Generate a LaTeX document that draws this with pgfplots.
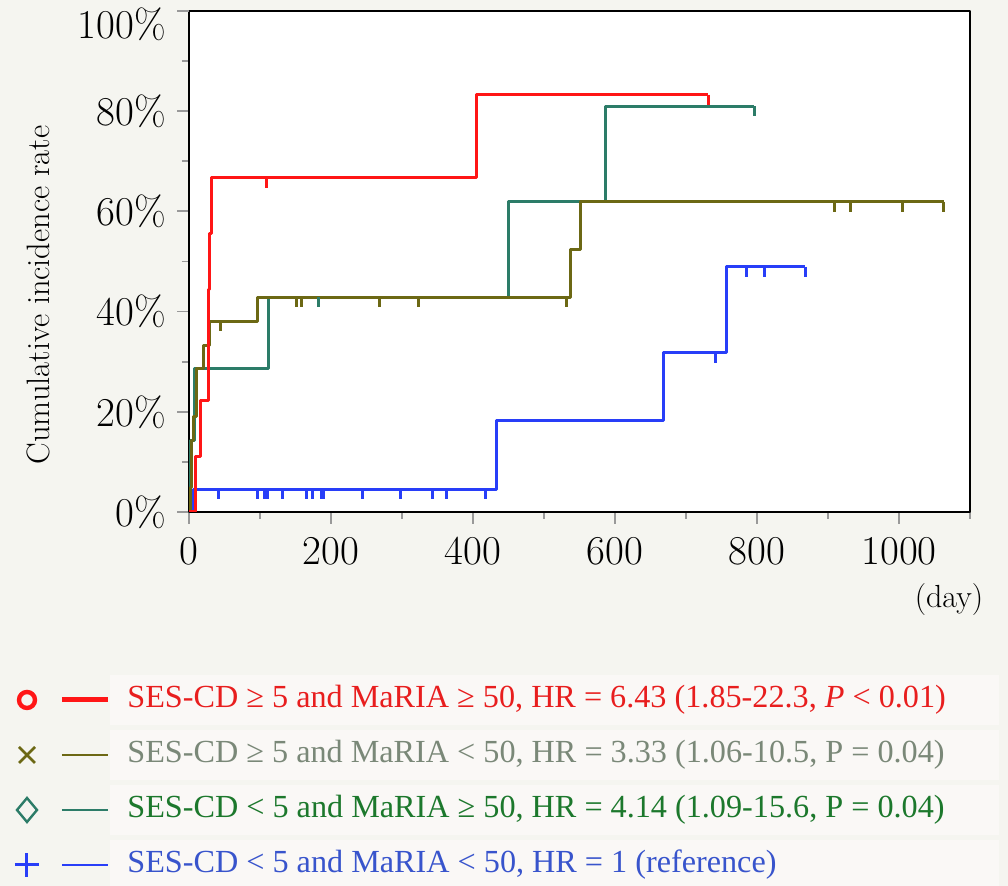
\documentclass[border=0pt]{standalone}
\usepackage{fontspec}
\usepackage{pgfplots}
\pgfplotsset{compat=1.18}
\newfontfamily\legfont{Liberation Serif}
\definecolor{kmred}{RGB}{255,22,22}
\definecolor{kmolive}{RGB}{108,104,20}
\definecolor{kmteal}{RGB}{44,124,104}
\definecolor{kmblue}{RGB}{40,62,248}
\definecolor{txtred}{RGB}{232,30,30}
\definecolor{txtolive}{RGB}{122,136,120}
\definecolor{txtgreen}{RGB}{28,120,44}
\definecolor{txtblue}{RGB}{56,84,204}
\definecolor{pagebg}{RGB}{245,245,240}
\definecolor{rowbg}{RGB}{250,248,246}
\pgfdeclareplotmark{cens}{\pgfpathmoveto{\pgfpointorigin}\pgfpathlineto{\pgfpoint{0pt}{-\pgfplotmarksize}}\pgfusepathqstroke}
\begin{document}
\begin{tikzpicture}
\fill[pagebg] (-94.5pt,-187pt) rectangle (409.5pt,256pt);
% legend row boxes
\foreach \yy in {-94,-121.5,-149,-176.5}{
  \fill[rowbg] (-39.5pt,\yy pt-12.5pt) rectangle (405pt,\yy pt+12.5pt);
}
\begin{axis}[
  scale only axis, width=390.5pt, height=250.5pt,
  at={(0,0)}, anchor=south west,
  xmin=0, xmax=1100, ymin=0, ymax=100,
  /pgf/number format/assume math mode=true,
  /pgf/number format/1000 sep={},
  xtick={0,200,...,1000}, minor xtick={100,300,...,1100},
  ytick={0,20,...,80}, minor ytick={10,30,...,90},
  extra y ticks={100},
  extra y tick style={yticklabel style={yshift=-6.5pt}},
  yticklabel={\pgfmathprintnumber{\tick}\%},
  tick align=outside, tick pos=left,
  major tick length=6pt, minor tick length=3.5pt,
  every tick/.style={gray!80, line width=0.9pt},
  axis line style={black, line width=1.3pt},
  axis background/.style={fill=white},
  tick label style={font=\fontsize{20.5}{23}\selectfont},
  xticklabel style={yshift=-3pt},
  yticklabel style={xshift=-2pt},
  line join=round,
]
\addplot[kmblue, line width=1.5pt, const plot] coordinates {(0,0) (6,4.5) (433,18.2) (669,31.8) (757,48.9) (868,48.9)};
\addplot[kmblue, line width=1.5pt, only marks, mark=cens, mark size=5pt] coordinates {
(42,4.5) (96,4.5) (106,4.5) (110,4.5) (132,4.5) (166,4.5) (174,4.5) (187,4.5) (190,4.5) (244,4.5) (298,4.5) (343,4.5) (363,4.5) (418,4.5)
(741,31.8) (785,48.9) (811,48.9) (868,48.9)};
\addplot[kmteal, line width=1.5pt, const plot] coordinates {(0,0) (2,14.3) (8,28.6) (112,42.9) (450,61.9) (587,81.0) (796,81.0)};
\addplot[kmteal, line width=1.5pt, only marks, mark=cens, mark size=5pt] coordinates {(182,42.9) (796,81.0)};
\addplot[kmolive, line width=1.5pt, const plot] coordinates {(0,0) (2,4.8) (3,9.5) (4,14.3) (6,19.0) (10,28.6) (20,33.3) (29,38.1) (97,42.9) (537,52.4) (551,61.9) (1063,61.9)};
\addplot[kmolive, line width=1.5pt, only marks, mark=cens, mark size=5pt] coordinates {
(45,38.1) (152,42.9) (159,42.9) (268,42.9) (323,42.9) (531,42.9) (909,61.9) (932,61.9) (1005,61.9) (1063,61.9)};
\addplot[kmred, line width=1.5pt, const plot] coordinates {(0,0) (9,11.1) (16,22.2) (27,33.3) (28,44.4) (29,55.6) (31,66.7) (405,83.3) (731,83.3)};
\addplot[kmred, line width=1.5pt, only marks, mark=cens, mark size=5pt] coordinates {(109,66.7) (731,83.3)};
\end{axis}
% axis texts
\node[rotate=90, font=\fontsize{16.2}{19}\selectfont] at (-75.5pt,108.5pt) {Cumulative incidence rate};
\node[font=\fontsize{16}{19}\selectfont] at (380pt,-44pt) {(day)};
% legend
\draw[kmred, line width=2.2pt] (-81pt,-94pt) circle (4pt);
\draw[kmred, line width=2.5pt] (-63.5pt,-94pt) -- (-40.5pt,-94pt);
\node[anchor=west, text=txtred, font=\legfont\fontsize{16.1}{19}\selectfont, inner sep=0pt] at (-31pt,-94pt) {SES-CD ≥ 5 and MaRIA ≥ 50, HR = 6.43 (1.85-22.3, \textit{P} < 0.01)};
\draw[kmolive, line width=1.3pt] (-85pt,-125.5pt) -- (-77pt,-117.5pt) (-85pt,-117.5pt) -- (-77pt,-125.5pt);
\draw[kmolive, line width=1.3pt] (-63.5pt,-121.5pt) -- (-40.5pt,-121.5pt);
\node[anchor=west, text=txtolive, font=\legfont\fontsize{16.1}{19}\selectfont, inner sep=0pt] at (-31pt,-121.5pt) {SES-CD ≥ 5 and MaRIA < 50, HR = 3.33 (1.06-10.5, P = 0.04)};
\draw[kmteal, line width=1.2pt] (-86pt,-149pt) -- (-81pt,-143pt) -- (-76pt,-149pt) -- (-81pt,-155pt) -- cycle;
\draw[kmteal, line width=1.3pt] (-63.5pt,-149pt) -- (-40.5pt,-149pt);
\node[anchor=west, text=txtgreen, font=\legfont\fontsize{16.1}{19}\selectfont, inner sep=0pt] at (-31pt,-149pt) {SES-CD < 5 and MaRIA ≥ 50, HR = 4.14 (1.09-15.6, P = 0.04)};
\draw[kmblue, line width=1.5pt] (-87pt,-176.5pt) -- (-75pt,-176.5pt) (-81pt,-182.5pt) -- (-81pt,-170.5pt);
\draw[kmblue, line width=1.3pt] (-63.5pt,-176.5pt) -- (-40.5pt,-176.5pt);
\node[anchor=west, text=txtblue, font=\legfont\fontsize{16.1}{19}\selectfont, inner sep=0pt] at (-31pt,-176.5pt) {SES-CD < 5 and MaRIA < 50, HR = 1 (reference)};
\pgfresetboundingbox
\path (-94.5pt,-187pt) rectangle (409.5pt,256pt);
\end{tikzpicture}
\end{document}
